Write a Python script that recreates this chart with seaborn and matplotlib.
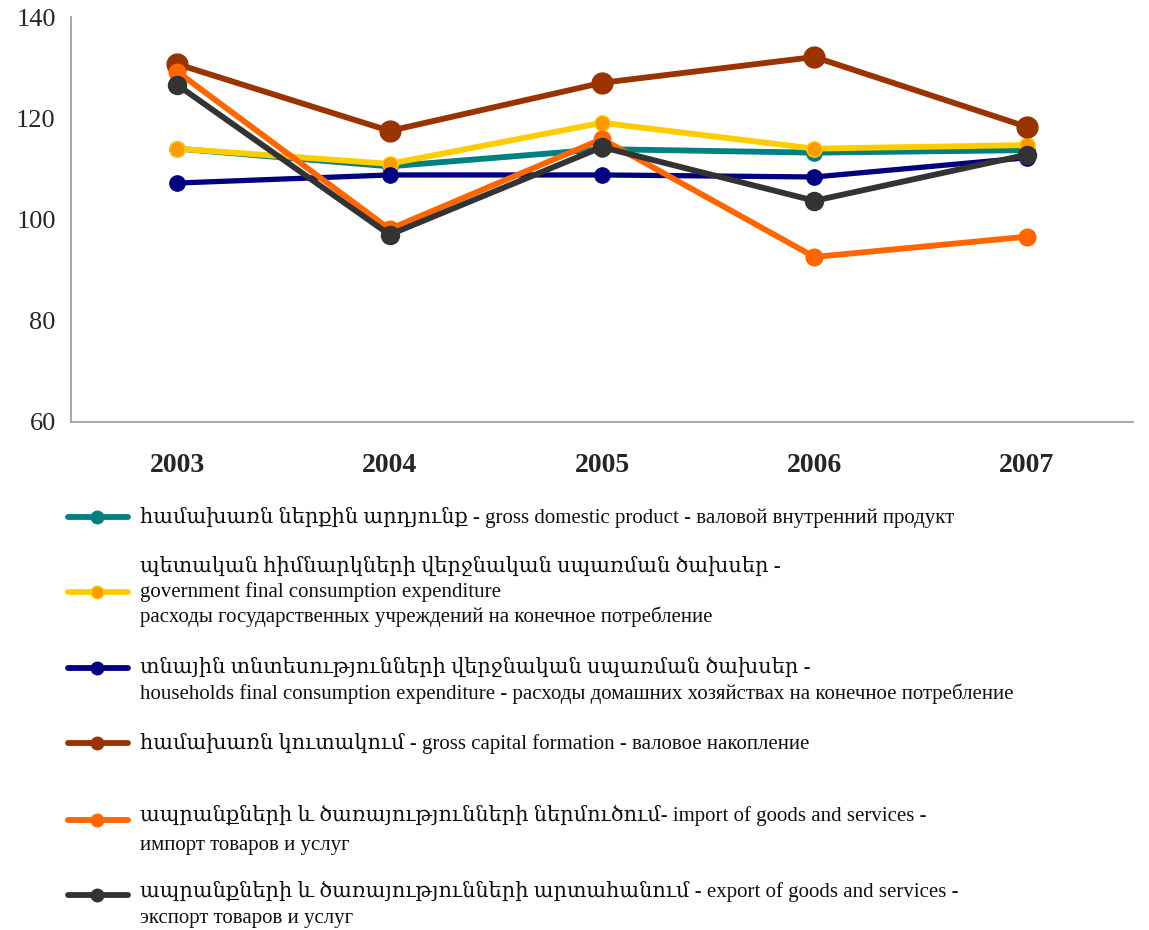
import numpy as np
import pandas as pd
import matplotlib
matplotlib.use("Agg")
import matplotlib.pyplot as plt
from matplotlib.lines import Line2D
import seaborn as sns

years = ["2003", "2004", "2005", "2006", "2007"]

gdp = [114.0, 110.5, 113.9, 113.2, 113.7]
gov = [114.0, 111.0, 119.1, 114.0, 114.7]
households = [107.2, 108.8, 108.8, 108.4, 112.2]
capital = [130.7, 117.5, 127.0, 132.1, 118.3]
imports = [129.2, 98.1, 115.9, 92.6, 96.6]
exports = [126.6, 97.0, 114.3, 103.7, 112.8]

labels = [
    ["համախառն ներքին արդյունք - gross domestic product - валовой внутренний продукт"],
    ["պետական հիմնարկների վերջնական սպառման ծախսեր -",
     "government final consumption expenditure",
     "расходы государственных учреждений на конечное потребление"],
    ["տնային տնտեսությունների վերջնական սպառման ծախսեր -",
     "households final consumption expenditure - расходы домашних хозяйствах на конечное потребление"],
    ["համախառն կուտակում - gross capital formation - валовое накопление"],
    ["ապրանքների և ծառայությունների ներմուծում- import of goods and services -",
     "импорт товаров и услуг"],
    ["ապրանքների և ծառայությունների արտահանում - export of goods and services -",
     "экспорт товаров и услуг"],
]

series = [gdp, gov, households, capital, imports, exports]
colors = ["#008080", "#FFCC00", "#000080", "#993300", "#FF6600", "#333333"]
faces = ["#008080", "#FF9900", "#000080", "#993300", "#FF6600", "#333333"]
msizes = [11, 11, 11, 15, 12, 13]
lwidths = [4.2, 4.2, 3.8, 4.2, 4.2, 4.2]

sns.set_style("white")
plt.rcParams["font.family"] = ["Liberation Serif", "DejaVu Serif"]

fig = plt.figure(figsize=(11.49, 9.3), dpi=100)
ax = fig.add_axes([71/1149, 1-422/930, (1133-71)/1149, (422-17)/930])

x = np.arange(len(years))
for vals, c, fc, ms, lw in zip(series, colors, faces, msizes, lwidths):
    df = pd.DataFrame({"x": x, "y": vals})
    sns.lineplot(data=df, x="x", y="y", ax=ax, color=c, lw=lw, marker="o",
                 markersize=ms, markerfacecolor=fc, markeredgecolor=c,
                 markeredgewidth=1)

ax.set_xlim(-0.5, len(years) - 0.5)
ax.set_ylim(60, 140)
ax.set_yticks([60, 80, 100, 120, 140])
ax.set_xticks(np.arange(-0.5, len(years), 1.0))
ax.set_xticklabels([])
ax.set_xticks(x, minor=True)
ax.set_xticklabels(years, minor=True, fontsize=20, fontweight="bold")
ax.tick_params(axis="x", which="minor", length=0, pad=22)
ax.tick_params(axis="x", which="major", length=8, color="#999999", direction="out")
ax.tick_params(axis="y", length=8, color="#999999", direction="out", labelsize=19, pad=3)
ax.set_xlabel("")
ax.set_ylabel("")
for s in ["top", "right"]:
    ax.spines[s].set_visible(False)
for s in ["left", "bottom"]:
    ax.spines[s].set_color("#999999")
    ax.spines[s].set_linewidth(1.2)

# legend below the plot, drawn by hand
key_y = [517, 592, 668, 743, 820, 895]
text_y = [[517], [567, 592, 617], [668, 694], [743], [815, 845], [891, 918]]
for i in range(len(series)):
    yy = 1 - key_y[i] / 930
    fig.add_artist(Line2D([68/1149, 128/1149], [yy, yy], transform=fig.transFigure,
                          color=colors[i], lw=4.2, solid_capstyle="round"))
    fig.add_artist(Line2D([97/1149], [yy], transform=fig.transFigure, marker="o",
                          markersize=9, color=colors[i], markerfacecolor=faces[i]))
    for line, ty in zip(labels[i], text_y[i]):
        fig.text(140/1149, 1 - ty / 930, line, fontsize=15, va="center", ha="left",
                 color="#111111")

fig.savefig("out.png", dpi=100)
